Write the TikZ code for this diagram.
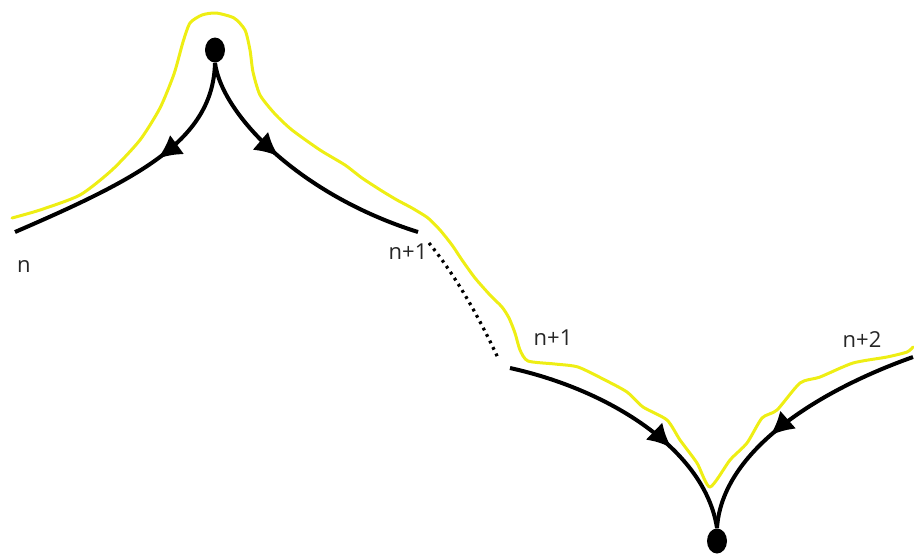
\documentclass[tikz,border=0pt]{standalone}
\usepackage{fontspec}
\newfontfamily\labfont{Open Sans}
\usetikzlibrary{arrows.meta,decorations.markings,shapes.geometric}
\definecolor{hilite}{RGB}{238,238,20}
\tikzset{
  curve/.style={line width=2pt, black},
  arrowat/.style={decoration={markings, mark=at position #1 with {\arrow{Latex[length=12pt,width=12pt]}}}, postaction=decorate},
  dotnode/.style={ellipse, fill=black, minimum width=10pt, minimum height=12.5pt, inner sep=0pt},
  lab/.style={font=\labfont\fontsize{11}{13}\selectfont, text=black!85, inner sep=0pt},
  hl/.style={draw=hilite, line width=1.5pt, line join=round, line cap=round},
  dotline/.style={line width=1.6pt, dash pattern=on 1.4pt off 2.2pt}
}
\begin{document}
\begin{tikzpicture}[x=0.5pt,y=-0.5pt]
\useasboundingbox (0,0) rectangle (914,559);
% highlight trail
\draw[hl] plot[smooth, tension=0.4] coordinates {
 (12,218) (40,210) (80,195) (112,170) (140,140) (160,108) (174,74) (183,42)
 (190,23) (202,15) (216,13) (234,18) (245,30) (250,50) (253,72) (260,95)
 (275,114) (292,130) (320,150) (345,165) (362,178) (382,191) (397,200)
 (412,208) (428,218) (440,230) (452,245) (462,260) (475,278) (490,295)
 (502,307) (509,318) (515,333) (520,350) (528,361) (555,364) (578,367)
 (605,380) (627,392) (643,407) (667,420) (680,440) (697,463) (710,487)
 (730,460) (747,443) (762,418) (777,410) (800,383) (820,377) (853,363)
 (887,357) (907,352) (913,347)};
% dots
\node[dotnode] (top) at (215,50) {};
\node[dotnode] (bot) at (717,541) {};
% free ends
\coordinate (nl) at (15,232);
\coordinate (nr) at (418,232);
\coordinate (ml) at (510,368);
\coordinate (mr) at (913,357);
% curves
\draw[curve, arrowat=0.42] (top.south) .. controls (213,140) and (140,178) .. (nl);
\draw[curve, arrowat=0.42] (top.south) .. controls (222,115) and (300,195) .. (nr);
\draw[curve, arrowat=0.66] (ml) .. controls (610,390) and (705,450) .. (bot.north);
\draw[curve, arrowat=0.6] (mr) .. controls (820,390) and (722,450) .. (bot.north);
% dotted link
\coordinate (da) at (429,243);
\coordinate (db) at (498,358);
\draw[dotline] (da) .. controls (455,275) and (478,315) .. (db);
% labels
\node[lab] (l1) at (24,266) {n};
\node[lab] (l2) at (408,252) {n+1};
\node[lab] (l3) at (553,338) {n+1};
\node[lab] (l4) at (862,340) {n+2};
\end{tikzpicture}
\end{document}
